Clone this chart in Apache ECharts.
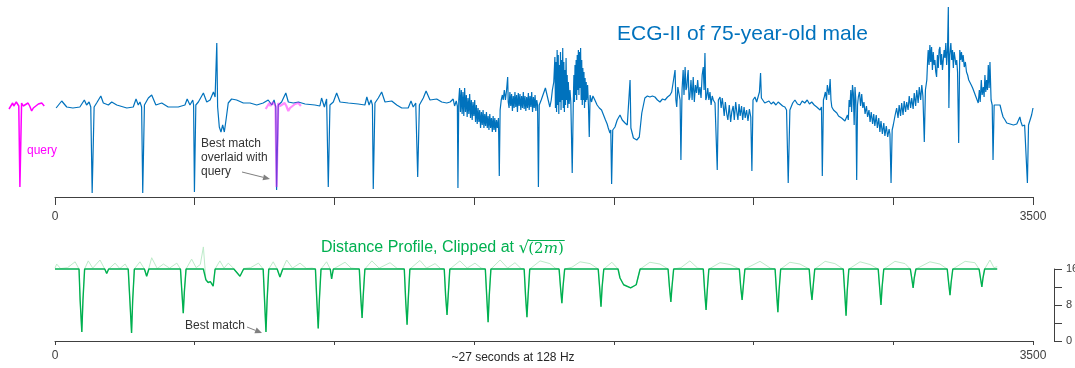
<!DOCTYPE html>
<html><head><meta charset="utf-8">
<script src="https://cdn.jsdelivr.net/npm/echarts@6/dist/echarts.min.js"></script>
<style>html,body{margin:0;padding:0;background:#fff}#c{width:1075px;height:368px}</style>
</head><body><div id="c"></div>
<script>
// ---------- DATA ----------
// ECG-II signal, [sample, amplitude] (arbitrary units), 3500 samples at 128 Hz
const ecg = [
[4,92],[24,99],[42,93],[64,92],[89,93],[105,100],[113,95],[122,98],[128,93],[133,7],[140,93],[149,97],[164,104],[173,97],[191,95],[203,98],[221,95],[257,92],[280,93],[290,101],[298,95],[304,98],[310,93],[314,7],[320,95],[334,102],[346,105],[361,95],[382,97],[405,93],[441,93],[465,95],[473,101],[483,95],[493,100],[496,95],[499,8],[504,95],[513,98],[531,107],[543,98],[555,100],[567,108],[573,103],[579,157],[582,93],[588,73],[594,68],[600,75],[606,68],[612,80],[620,97],[632,101],[650,100],[674,97],[698,97],[722,95],[745,97],[763,100],[776,95],[784,100],[790,93],[793,10],[799,95],[811,98],[826,107],[835,98],[853,97],[871,98],[895,96],[930,95],[948,94],[954,102],[964,93],[972,101],[978,13],[984,95],[996,98],[1008,107],[1020,98],[1050,97],[1085,96],[1109,95],[1116,103],[1124,95],[1131,100],[1136,95],[1139,11],[1145,97],[1157,102],[1169,108],[1181,98],[1205,99],[1223,95],[1241,92],[1264,92],[1274,99],[1282,93],[1291,97],[1298,23],[1304,95],[1318,102],[1328,109],[1342,100],[1366,101],[1384,98],[1402,97],[1414,98],
[1420,96],[1425,101],[1430,94],[1436,99],[1440,94],[1442,12],[1445,100],[1448,112],[1451,88],[1454,110],[1457,86],[1460,108],[1463,84],[1466,112],[1469,88],[1472,105],[1475,83],[1478,102],[1481,86],[1484,106],[1487,82],[1490,100],[1493,80],[1496,98],[1499,84],[1502,100],[1505,78],[1508,95],[1511,76],[1514,92],[1517,78],[1520,90],[1523,72],[1526,88],[1529,75],[1532,90],[1535,72],[1538,86],[1541,74],[1544,88],[1547,72],[1550,84],[1553,70],[1556,86],[1559,72],[1562,82],[1565,68],[1568,84],[1571,70],[1574,82],[1577,68],[1580,80],[1583,72],[1587,82],[1590,24],
[1593,90],[1597,100],[1601,105],[1604,100],[1608,110],[1612,100],[1616,110],[1620,123],[1622,98],[1625,92],[1628,108],[1631,94],[1634,106],[1637,89],[1640,104],[1643,92],[1646,108],[1649,93],[1652,105],[1655,88],[1658,107],[1661,94],[1664,106],[1667,90],[1670,104],[1673,92],[1676,108],[1679,91],[1682,104],[1685,89],[1688,103],[1691,92],[1694,107],[1697,90],[1700,104],[1703,93],[1706,108],[1709,88],[1712,103],[1715,92],[1718,105],[1721,89],[1724,100],[1727,95],[1730,13],[1733,95],[1737,97],
[1740,100],[1745,104],[1750,108],[1755,112],[1760,113],[1765,100],[1771,93],[1776,100],[1780,110],[1785,118],[1789,143],[1791,92],[1793,138],[1795,88],[1797,150],[1799,95],[1801,145],[1803,86],[1805,135],[1807,98],[1809,148],[1811,90],[1813,140],[1815,100],[1817,152],[1819,92],[1821,138],[1823,88],[1825,130],[1827,95],[1829,142],[1831,100],[1833,125],[1835,92],[1837,118],[1840,96],[1843,110],[1846,98],[1849,100],[1851,27],[1855,100],[1857,125],[1859,98],[1861,135],[1863,105],[1865,140],[1867,100],[1869,145],[1871,110],[1873,150],[1875,105],[1877,148],[1879,112],[1881,152],[1883,100],[1885,140],[1887,95],[1889,132],[1891,100],[1893,128],[1895,92],[1897,122],[1899,98],[1901,118],[1903,100],[1906,115],[1909,95],[1912,63],[1915,105],[1920,98],[1925,104],[1932,100],[1940,95],[1948,92],[1956,90],[1963,85],[1970,80],[1976,76],[1980,72],[1986,67],[1989,70],[1992,16],[1996,70],[2004,73],[2012,80],[2022,85],[2030,80],[2040,77],[2048,75],[2054,77],[2058,120],[2061,72],[2064,70],[2070,62],[2076,60],[2082,60],[2091,63],[2100,87],[2111,102],[2120,104],[2129,103],[2138,104],[2147,103],[2156,100],[2165,98],[2174,101],[2183,100],[2192,103],[2201,105],[2207,108],[2213,110],[2219,130],[2222,100],[2225,93],[2229,113],[2234,113],[2237,100],[2240,40],[2244,110],[2248,130],[2251,105],[2255,133],[2258,110],[2261,113],[2264,125],[2266,130],[2269,100],[2272,103],[2276,120],[2280,100],[2284,123],[2288,98],[2292,115],[2296,107],[2300,120],[2304,105],[2308,113],[2312,102],[2316,125],[2320,133],[2323,110],[2326,147],[2329,100],[2332,103],[2336,112],[2340,100],[2344,108],[2348,95],[2352,104],[2356,100],[2362,97],[2366,95],[2370,30],[2374,100],
[2380,103],[2384,92],[2388,102],[2391,95],[2395,84],[2399,98],[2404,86],[2408,80],[2413,95],[2418,78],[2422,88],[2427,94],[2431,80],[2436,98],[2440,88],[2444,80],[2448,96],[2452,84],[2457,94],[2461,80],[2466,93],[2470,82],[2475,90],[2480,79],[2485,91],[2490,83],[2494,29],
[2498,100],[2505,103],[2511,98],[2517,100],[2521,108],[2525,127],[2528,102],[2532,100],[2540,97],[2547,97],[2555,99],[2563,96],[2571,98],[2580,95],[2588,98],[2595,97],[2604,94],[2612,93],[2618,90],[2624,17],[2630,90],[2640,97],[2648,100],[2657,96],[2666,95],[2674,99],[2683,97],[2692,100],[2700,96],[2708,98],[2717,95],[2726,93],[2732,92],[2738,90],[2743,93],[2746,24],[2750,100],[2753,103],[2757,108],[2761,100],[2764,115],[2767,113],[2770,105],[2774,121],[2777,100],[2780,93],[2786,90],[2792,88],[2798,87],[2804,84],[2810,83],[2815,82],[2821,80],[2827,79],[2833,77],[2836,85],[2839,80],[2842,100],[2845,93],[2848,110],[2851,88],[2854,115],[2857,107],[2860,75],[2863,113],[2866,100],[2869,20],
[2872,95],[2875,103],[2879,108],[2883,94],[2887,106],[2891,92],[2895,98],[2899,86],[2904,94],[2908,83],[2913,90],[2917,78],[2921,88],[2926,76],[2930,86],[2934,74],[2939,85],[2943,72],[2948,82],[2952,68],[2956,79],[2961,66],[2966,77],[2970,64],[2975,74],[2980,63],[2985,71],[2988,66],[2992,17],
[2996,70],[3000,75],[3006,84],[3012,92],[3017,82],[3021,95],[3026,84],[3030,97],[3035,85],[3039,99],[3044,88],[3048,98],[3053,90],[3057,104],[3062,92],[3066,102],[3071,91],[3075,107],[3080,94],[3084,110],[3089,97],[3093,113],[3098,100],[3102,115],[3106,104],[3111,58],
[3115,110],[3120,120],[3123,140],[3125,150],[3128,135],[3131,155],[3134,138],[3137,153],[3140,130],[3143,148],[3146,135],[3149,140],[3152,128],[3155,123],[3158,145],[3161,132],[3164,150],[3167,153],[3170,135],[3173,146],[3176,130],[3179,140],[3182,150],[3185,142],[3188,157],[3191,135],[3194,150],[3197,193],[3199,92],[3202,145],[3206,157],[3209,140],[3212,150],[3215,132],[3218,148],[3221,142],[3224,135],[3227,140],[3230,128],[3234,57],[3238,150],[3241,140],[3244,148],[3247,138],[3250,145],[3254,133],[3258,138],[3262,128],[3266,125],[3270,120],[3274,118],[3279,115],[3284,112],[3289,110],[3292,106],[3296,108],[3300,100],[3304,97],[3308,110],[3311,98],[3315,120],[3318,105],[3322,113],[3325,103],[3328,125],[3331,108],[3334,120],[3337,110],[3340,135],[3343,112],[3346,138],[3350,100],[3354,95],[3357,40],[3361,95],[3364,97],[3372,95],[3382,95],[3388,88],[3393,83],[3400,80],[3406,77],[3412,75],[3418,76],[3424,74],[3430,75],[3436,73],[3442,76],[3448,78],[3453,83],[3457,78],[3462,74],[3465,72],[3470,75],[3474,76],[3480,17],[3484,75],[3489,77],[3495,85],[3500,92]
];
// Query subsequence (m = 128 samples), [offset, amplitude]
const query = [[0,91],[6,93],[13,97],[17,94],[21,93],[26,98],[30,97],[35,94],[39,13],[45,97],[51,94],[57,95],[68,97],[74,94],[81,89],[87,92],[93,93],[105,96],[117,97],[126,94]];
const queryLength = 128;
const bestMatchStart = 754;
// Distance profile (unclipped), [start sample, distance]
const distanceProfile = [
[0,16.2],[6,17.1],[20,16.1],[45,16.3],[72,17.6],[86,16],[90,9],[96,2.0],[100,9],[106,16],[119,17.8],[135,16.2],[161,18.0],[178,16],[185,15.0],[192,16],[215,17.3],[232,16.1],[251,17.1],[262,16],[268,9],[274,1.8],[278,9],[284,16],[304,17.6],[320,16],[328,14.4],[336,16.2],[346,18.5],[366,16.1],[388,17.1],[410,16.2],[436,17.3],[449,16],[454,11],[459,6.2],[463,11],[469,16],[489,18.2],[505,16.3],[520,17],[531,20.9],[537,16],[540,13.6],[548,13],[556,13.2],[566,12.2],[573,16],[590,17.8],[605,16.2],[620,17.3],[640,16.1],[662,14.4],[675,16.1],[700,16.3],[728,17.3],[745,16],[750,9],[755,2.0],[759,9],[765,16],[781,17.6],[795,16],[805,14.2],[815,16.1],[829,18.0],[850,16.2],[877,17.3],[900,16.1],[920,16.2],[932,16],[937,9],[942,2.8],[946,9],[952,16],[972,17.6],[985,16],[990,13.8],[996,16],[1038,17.5],[1060,16.2],[1089,16],[1094,10],[1099,5.1],[1103,10],[1109,16],[1134,17.8],[1160,16.2],[1199,17.4],[1225,16.1],[1250,16],[1255,9],[1260,3.6],[1264,9],[1270,16],[1306,17.9],[1330,16.2],[1360,17.2],[1380,16.1],[1393,16],[1398,10],[1403,5.8],[1407,10],[1413,16],[1449,17.8],[1475,16.2],[1503,17.3],[1525,16.2],[1540,16],[1545,10],[1550,4.2],[1554,10],[1560,16],[1593,18.0],[1620,16.2],[1646,17.4],[1668,16.1],[1679,16],[1684,10],[1689,5.3],[1693,10],[1699,16],[1736,17.8],[1771,17.2],[1790,16.2],[1804,16],[1809,12],[1814,8.4],[1818,12],[1824,16],[1850,16.4],[1879,17.6],[1915,17.2],[1944,16],[1949,12],[1954,7.6],[1958,12],[1964,16],[1993,17.5],[2015,16],[2022,14],[2035,12.5],[2060,11.8],[2080,12.5],[2094,16],[2129,17.5],[2165,17.1],[2194,16],[2199,12],[2204,8.7],[2208,12],[2214,16],[2240,16.3],[2272,17.8],[2300,16.2],[2320,16],[2325,11],[2330,6.9],[2334,11],[2340,16],[2380,17.4],[2416,17.0],[2449,16],[2454,12],[2459,9.1],[2463,12],[2469,16],[2523,17.7],[2560,16.2],[2577,16],[2582,11],[2587,6.4],[2591,11],[2597,16],[2630,17.5],[2666,17.1],[2699,16],[2704,12],[2709,9.1],[2713,12],[2719,16],[2756,17.7],[2791,17.2],[2821,16],[2826,11],[2831,5.6],[2835,11],[2841,16],[2881,17.6],[2917,17.0],[2946,16],[2951,12],[2956,8.0],[2960,12],[2966,16],[3006,17.7],[3042,17.2],[3061,16],[3066,14],[3071,11.8],[3075,14],[3081,16],[3131,17.6],[3167,17.1],[3193,16],[3198,13],[3203,10.2],[3207,13],[3213,16],[3257,17.7],[3292,17.4],[3307,16],[3312,14],[3317,12.0],[3321,14],[3327,16],[3346,18.0],[3360,16.3],[3372,16.5]
];
const clipLevel = 16; // sqrt(2m), m = 128
const xTickLabels = [0, 3500];
const distanceTickLabels = [0, 8, 16];

// ---------- CHART ----------
const FONT = "'Liberation Sans', Arial, sans-serif";
const AX = '#404040';
const BLUE = '#0072BD', GREEN = '#00B050', LIGHTGREEN = '#BDEBC9', MAGENTA = '#FF00FF';
const chart = echarts.init(document.getElementById('c'), null, {renderer: 'canvas'});

const ctx = document.createElement('canvas').getContext('2d');
function tw(t, f) { ctx.font = f; return ctx.measureText(t).width; }
const f1 = "16px 'Liberation Sans'";
const t1 = 'Distance Profile, Clipped at ';
const x0 = 321;
const xs = x0 + tw(t1, f1);
const fS = "17px 'DejaVu Sans'";
const xp = xs + tw('\u221A', fS) - 1;
const fP = "15px 'DejaVu Serif'";
const fM = "italic 15px 'DejaVu Serif'";
const xm = xp + tw('(2', fP);
const xe = xm + tw('m', fM);
const xEnd = xe + tw(')', fP);

const xAxisCommon = (tickLen, margin) => ({
  type: 'value', min: 0, max: 3500, interval: 500,
  axisLine: {onZero: false, lineStyle: {color: AX, width: 1}},
  axisTick: {length: tickLen, lineStyle: {color: AX, width: 1}},
  axisLabel: {formatter: v => xTickLabels.includes(v) ? String(v) : '', margin: margin, color: AX, fontSize: 12, fontFamily: FONT},
  splitLine: {show: false}
});

function arrow(x1, y1, x2, y2) {
  const a = Math.atan2(y2 - y1, x2 - x1), L = 7, W = 3;
  const bx = x2 - L * Math.cos(a), by = y2 - L * Math.sin(a);
  return [
    {type: 'line', shape: {x1: x1, y1: y1, x2: bx, y2: by}, style: {stroke: '#808080', lineWidth: 1}},
    {type: 'polygon', shape: {points: [[x2, y2], [bx + W * Math.sin(a), by - W * Math.cos(a)], [bx - W * Math.sin(a), by + W * Math.cos(a)]]}, style: {fill: '#808080'}}
  ];
}

const option = {
  animation: false,
  backgroundColor: '#fff',
  grid: [
    {left: 55, top: 0, width: 978, height: 197, outerBoundsMode: 'none', containLabel: false},
    {left: 9, top: 0, width: 35.8, height: 197, outerBoundsMode: 'none', containLabel: false},
    {left: 55, top: 269, width: 978, height: 72, outerBoundsMode: 'none', containLabel: false}
  ],
  xAxis: [
    Object.assign({gridIndex: 0}, xAxisCommon(8, 14)),
    {gridIndex: 1, type: 'value', min: 0, max: queryLength, show: false},
    Object.assign({gridIndex: 2}, xAxisCommon(4, 9))
  ],
  yAxis: [
    {gridIndex: 0, type: 'value', min: 3, max: 200, show: false},
    {gridIndex: 1, type: 'value', min: 3, max: 200, show: false},
    {gridIndex: 2, type: 'value', min: 0, max: 16, interval: 4, position: 'right', offset: 21,
      axisLine: {show: true, onZero: false, lineStyle: {color: AX, width: 1}},
      axisTick: {show: true, length: 8, lineStyle: {color: AX}},
      axisLabel: {formatter: v => distanceTickLabels.includes(v) ? String(v) : '', margin: 12, color: AX, fontSize: 11, fontFamily: FONT},
      splitLine: {show: false}}
  ],
  series: [
    {type: 'line', xAxisIndex: 0, yAxisIndex: 0, data: ecg, showSymbol: false, symbol: 'none',
      lineStyle: {color: BLUE, width: 1.2}, z: 2},
    {type: 'line', xAxisIndex: 0, yAxisIndex: 0, data: query.map(p => [bestMatchStart + p[0], p[1]]), symbol: 'none',
      lineStyle: {color: 'rgba(255,0,255,0.45)', width: 2.2}, z: 3},
    {type: 'line', xAxisIndex: 1, yAxisIndex: 1, data: query, symbol: 'none', clip: false,
      lineStyle: {color: MAGENTA, width: 1.5}, z: 3},
    {type: 'line', xAxisIndex: 2, yAxisIndex: 2, data: distanceProfile, symbol: 'none', clip: false,
      lineStyle: {color: LIGHTGREEN, width: 1}, z: 2},
    {type: 'line', xAxisIndex: 2, yAxisIndex: 2, data: distanceProfile.map(p => [p[0], Math.min(p[1], clipLevel)]), symbol: 'none', clip: false,
      lineStyle: {color: GREEN, width: 1.4}, z: 3}
  ],
  graphic: [
    {type: 'text', left: 617, top: 24, style: {text: 'ECG-II of 75-year-old male', fill: BLUE, font: "21px 'Liberation Sans'"}},
    {type: 'text', x: 27, y: 151, style: {text: 'query', fill: MAGENTA, font: "12px 'Liberation Sans'", verticalAlign: 'middle'}},
    {type: 'text', x: 201, y: 137, style: {text: 'Best match\noverlaid with\nquery', fill: '#333', font: "12px 'Liberation Sans'", lineHeight: 14, verticalAlign: 'top'}},
    ...arrow(242, 172, 270, 179),
    {type: 'text', x: 185, y: 326, style: {text: 'Best match', fill: '#333', font: "12px 'Liberation Sans'", verticalAlign: 'middle'}},
    ...arrow(247, 327, 262, 333),
    {type: 'text', x: 513, y: 358, style: {text: '~27 seconds at 128 Hz', fill: '#262626', font: "12px 'Liberation Sans'", align: 'center', verticalAlign: 'middle'}},
    {type: 'text', x: x0, y: 248, style: {text: t1, fill: GREEN, font: f1, verticalAlign: 'middle'}},
    {type: 'text', x: xs, y: 249, style: {text: '\u221A', fill: GREEN, font: fS, verticalAlign: 'middle'}},
    {type: 'text', x: xp, y: 249, style: {text: '(2', fill: GREEN, font: fP, verticalAlign: 'middle'}},
    {type: 'text', x: xm, y: 249, style: {text: 'm', fill: GREEN, font: fM, verticalAlign: 'middle'}},
    {type: 'text', x: xe, y: 249, style: {text: ')', fill: GREEN, font: fP, verticalAlign: 'middle'}},
    {type: 'line', shape: {x1: xp, y1: 240.5, x2: xEnd + 1, y2: 240.5}, style: {stroke: GREEN, lineWidth: 1}}
  ]
};
chart.setOption(option);
</script></body></html>
